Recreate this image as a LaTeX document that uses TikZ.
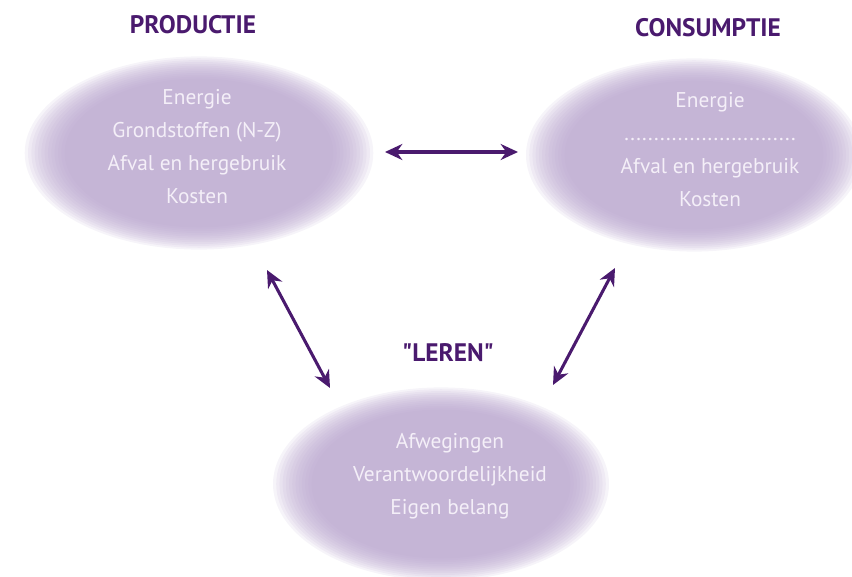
\documentclass[tikz,border=0pt]{standalone}
\usepackage{fontspec}
\setmainfont{PT Sans}[Ligatures=TeXOff]
\usetikzlibrary{arrows.meta}

\definecolor{paars}{RGB}{74,26,110}
\definecolor{lila}{RGB}{184,164,205}
\definecolor{tekst}{RGB}{244,239,248}

\tikzset{
  kop/.style={text=paars,font=\fontsize{19}{21}\selectfont\bfseries,inner sep=0.75pt},
  regel/.style={text=tekst,align=center,font=\fontsize{16}{24.75}\selectfont,inner sep=0.75pt},
  pijl/.style={draw=paars,line width=2.3pt,{Stealth[length=13pt,width=12pt]}-{Stealth[length=13pt,width=12pt]}},
}

% soft purple blob: centre x, centre y, x radius, y radius
\newcommand{\wolk}[4]{%
  \foreach \s in {1.05,1.03,...,0.79}
    \fill[lila,fill opacity=0.12] (#1,#2) ellipse [x radius=\s*#3, y radius=\s*#4];%
}

\begin{document}
\begin{tikzpicture}[x=0.75pt,y=0.75pt,yscale=-1,xscale=1]
\useasboundingbox (0,0) rectangle (852,577);

%Blobs
\wolk{199}{153}{166}{92}
\wolk{694}{155}{160}{92}
\wolk{441}{484}{160}{92}

% Text Node
\node[kop] (productie) at (193,25) {PRODUCTIE};
% Text Node
\node[kop] (consumptie) at (708,28) {CONSUMPTIE};
% Text Node
\node[kop] (leren) at (448,353) {"LEREN"};

% Text Node
\node[regel] (prodtekst) at (197,147) {Energie\\Grondstoffen (N-Z)\\Afval en hergebruik\\Kosten};
% Text Node
\node[regel] (constekst) at (710,150) {Energie\\.............................\\Afval en hergebruik\\Kosten};
% Text Node
\node[regel] (leertekst) at (450,476) {Afwegingen\\Verantwoordelijkheid\\Eigen belang};

%Arrow ends
\coordinate (prodrechts) at (385,152);
\coordinate (conslinks) at (518,152);
\coordinate (prodonder) at (267,270);
\coordinate (leerlinks) at (330,388);
\coordinate (consonder) at (615,268);
\coordinate (leerrechts) at (553,385);

%Double arrows
\draw[pijl] (prodrechts) -- (conslinks);
\draw[pijl] (prodonder) -- (leerlinks);
\draw[pijl] (consonder) -- (leerrechts);

\end{tikzpicture}
\end{document}
